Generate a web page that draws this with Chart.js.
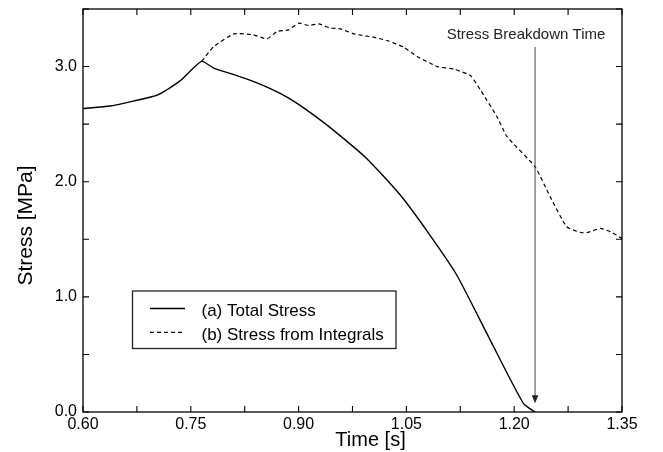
<!DOCTYPE html>
<html>
<head>
<meta charset="utf-8">
<script src="https://cdn.jsdelivr.net/npm/chart.js@4.4.0/dist/chart.umd.min.js"></script>
<style>
  body { margin: 0; background: #fff; }
  #wrap { width: 663px; height: 452px; position: relative; }
</style>
</head>
<body>
<div id="wrap"><canvas id="stressChart"></canvas></div>
<script>
// (a) total stress
let timeA = [0.600, 0.638, 0.670, 0.704, 0.735, 0.765, 0.782, 0.810, 0.833, 0.856, 0.875, 0.893,
             0.912, 0.944, 0.995, 1.042, 1.080, 1.120, 1.167, 1.213, 1.229];
let stressA = [2.635, 2.658, 2.700, 2.754, 2.876, 3.045, 2.986, 2.930, 2.880, 2.822, 2.765, 2.700,
               2.620, 2.470, 2.200, 1.880, 1.560, 1.190, 0.620, 0.073, 0.000];
// (b) stress from integrals
let timeB = [0.765, 0.782, 0.810, 0.837, 0.856, 0.870, 0.886, 0.900, 0.914, 0.928, 0.944, 0.958,
             0.977, 1.004, 1.023, 1.046, 1.065, 1.093, 1.116, 1.139, 1.153, 1.176, 1.190, 1.229,
             1.250, 1.273, 1.292, 1.301, 1.320, 1.334, 1.350];
let stressB = [3.045, 3.174, 3.284, 3.276, 3.241, 3.304, 3.319, 3.377, 3.357, 3.371, 3.334, 3.328,
               3.284, 3.255, 3.226, 3.169, 3.087, 3.000, 2.977, 2.922, 2.797, 2.565, 2.391, 2.130,
               1.870, 1.609, 1.560, 1.557, 1.595, 1.565, 1.508];
let seriesLabels = ["(a) Total Stress", "(b) Stress from Integrals"];
let xTickLabels = ["0.60", "0.75", "0.90", "1.05", "1.20", "1.35"];
let yTickLabels = ["0.0", "1.0", "2.0", "3.0"];
let breakdownTime = 1.229;
let arrowFrom = 3.17, arrowTo = 0.075;
let breakdownText = "Stress Breakdown Time";

const FONT = "'Liberation Sans', Arial, Helvetica, sans-serif";

function toPoints(xs, ys) {
    let pts = [];
    for (let i = 0; i < xs.length; i++) pts.push({x: xs[i], y: ys[i]});
    return pts;
}

function noPadding(s) {
    s.paddingTop = 0; s.paddingBottom = 0;
    s.paddingLeft = 0; s.paddingRight = 0;
}

// frame, inward ticks, legend, arrow, axis titles
const decorations = {
    id: 'decorations',
    afterDraw(chart) {
        const ctx = chart.ctx;
        const area = chart.chartArea;
        const xs = chart.scales.x, ys = chart.scales.y;
        ctx.save();
        ctx.strokeStyle = '#000';
        ctx.lineWidth = 1.3;
        ctx.strokeRect(area.left, area.top, area.right - area.left, area.bottom - area.top);

        ctx.lineWidth = 1.1;
        ctx.beginPath();
        xs.ticks.forEach(t => {
            let px = xs.getPixelForValue(t.value);
            ctx.moveTo(px, area.bottom); ctx.lineTo(px, area.bottom - 6);
            ctx.moveTo(px, area.top); ctx.lineTo(px, area.top + 6);
        });
        ys.ticks.forEach(t => {
            let py = ys.getPixelForValue(t.value);
            ctx.moveTo(area.left, py); ctx.lineTo(area.left + 6, py);
            ctx.moveTo(area.right, py); ctx.lineTo(area.right - 6, py);
        });
        ctx.stroke();

        // breakdown arrow
        let ax = xs.getPixelForValue(breakdownTime);
        let ay0 = ys.getPixelForValue(arrowFrom), ay1 = ys.getPixelForValue(arrowTo);
        ctx.strokeStyle = '#444';
        ctx.fillStyle = '#222';
        ctx.lineWidth = 1;
        ctx.beginPath();
        ctx.moveTo(ax, ay0); ctx.lineTo(ax, ay1 - 4);
        ctx.stroke();
        ctx.beginPath();
        ctx.moveTo(ax, ay1); ctx.lineTo(ax - 3.3, ay1 - 8); ctx.lineTo(ax + 3.3, ay1 - 8);
        ctx.closePath();
        ctx.fill();
        ctx.font = '15px ' + FONT;
        ctx.textAlign = 'center';
        ctx.textBaseline = 'alphabetic';
        ctx.fillText(breakdownText, 526, 38.5);

        // legend
        ctx.strokeStyle = '#222';
        ctx.lineWidth = 1.3;
        ctx.strokeRect(132.5, 291, 263.5, 57.5);
        ctx.font = '17px ' + FONT;
        ctx.textAlign = 'left';
        ctx.fillStyle = '#000';
        let rows = [308.5, 332.3];
        chart.data.datasets.forEach((ds, i) => {
            ctx.strokeStyle = '#000';
            ctx.lineWidth = ds.borderWidth;
            ctx.setLineDash(ds.borderDash || []);
            ctx.beginPath();
            ctx.moveTo(150, rows[i]); ctx.lineTo(185, rows[i]);
            ctx.stroke();
            ctx.setLineDash([]);
            ctx.fillText(ds.label, 201.5, rows[i] + 7.7);
        });

        // axis titles
        ctx.font = '20px ' + FONT;
        ctx.textAlign = 'center';
        ctx.fillText('Time [s]', 370.5, 445.5);
        ctx.translate(32, 225.5);
        ctx.rotate(-Math.PI / 2);
        ctx.font = '21px ' + FONT;
        ctx.fillText('Stress [MPa]', 0, 0);
        ctx.restore();
    }
};

new Chart(document.getElementById('stressChart'), {
    type: 'line',
    data: {
        datasets: [{
            label: seriesLabels[0],
            data: toPoints(timeA, stressA),
            borderColor: '#000',
            borderWidth: 1.4,
            pointRadius: 0,
            tension: 0.2
        }, {
            label: seriesLabels[1],
            data: toPoints(timeB, stressB),
            borderColor: '#000',
            borderWidth: 1.2,
            borderDash: [4, 3],
            pointRadius: 0,
            tension: 0.15
        }]
    },
    options: {
        responsive: true,
        maintainAspectRatio: false,
        animation: false,
        layout: { padding: { top: 9, right: 41, left: 0, bottom: 0 } },
        plugins: { legend: { display: false }, tooltip: { enabled: false } },
        scales: {
            x: {
                type: 'linear',
                min: 0.6,
                max: 1.35,
                grid: { display: false, drawTicks: false },
                border: { display: false },
                afterFit: s => { s.height = 40; noPadding(s); },
                ticks: {
                    stepSize: 0.075,
                    autoSkip: false,
                    maxRotation: 0,
                    padding: 3,
                    color: '#000',
                    font: { family: FONT, size: 16 },
                    callback: (v, i) => i % 2 === 0 ? xTickLabels[i / 2] : ''
                }
            },
            y: {
                min: 0,
                max: 3.5,
                grid: { display: false, drawTicks: false },
                border: { display: false },
                afterFit: s => { s.width = 83; noPadding(s); },
                ticks: {
                    stepSize: 0.5,
                    autoSkip: false,
                    padding: 6,
                    color: '#000',
                    font: { family: FONT, size: 16 },
                    callback: (v, i) => i % 2 === 0 ? yTickLabels[i / 2] : ''
                }
            }
        }
    },
    plugins: [decorations]
});
</script>
</body>
</html>
